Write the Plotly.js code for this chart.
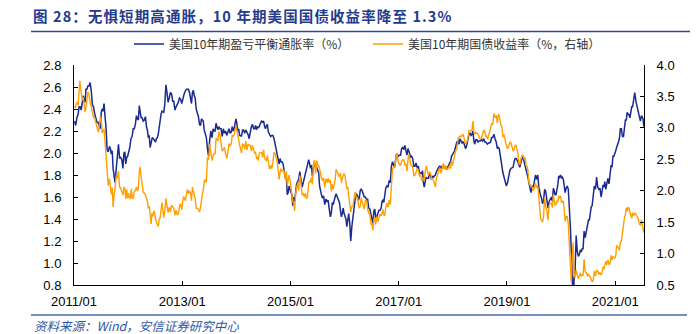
<!DOCTYPE html>
<html>
<head>
<meta charset="utf-8">
<script src="https://cdn.plot.ly/plotly-3.0.1.min.js"></script>
<style>
html,body{margin:0;padding:0;background:#fff;}
#chart{width:696px;height:334px;}
.gtitle{letter-spacing:1.1px;}
</style>
</head>
<body>
<div id="chart"></div>
<script>
// ---- Data (weekly-ish values grouped by month) ----
const seriesNames = ['美国10年期盈亏平衡通胀率（%）', '美国10年期国债收益率（%，右轴）'];
const startYear = 2011;
const lastMonthEndDay = 14; // series ends mid-July 2021

// 10Y breakeven inflation (%), left axis
const be2011 = [[2.29,2.25,2.32,2.35],[2.42,2.42,2.39,2.45],[2.52,2.49,2.46,2.58,2.58],[2.61,2.61,2.64,2.57],[2.44,2.42,2.36,2.30],[2.28,2.28,2.24,2.22],[2.37,2.40,2.38,2.45,2.34],[2.24,2.03,2.01,2.06],[2.04,1.99,2.02,1.86,1.80],[1.73,1.85,1.94,2.08],[1.95,1.96,1.94,1.86],[2.00,2.01,1.90,1.96,1.97]];
const be2012 = [[2.00,2.05,2.13,2.15],[2.22,2.22,2.26,2.34],[2.31,2.30,2.43,2.37,2.32],[2.32,2.29,2.30,2.33],[2.24,2.21,2.14,2.16,2.05],[2.11,2.14,2.13,2.11],[2.10,2.13,2.14,2.17,2.25],[2.32,2.35,2.38,2.37,2.37],[2.44,2.62,2.55,2.46],[2.50,2.55,2.54,2.47],[2.47,2.39,2.42,2.44],[2.46,2.50,2.49,2.45]];
const be2013 = [[2.50,2.52,2.55,2.57,2.58],[2.58,2.58,2.55,2.50],[2.45,2.55,2.57,2.52,2.50],[2.40,2.37,2.33,2.26],[2.25,2.31,2.30,2.29,2.21],[2.16,2.14,2.04,1.97],[2.12,2.20,2.14,2.22],[2.20,2.20,2.27,2.24,2.21],[2.24,2.22,2.22,2.15],[2.22,2.18,2.20,2.16],[2.19,2.22,2.18,2.19],[2.24,2.20,2.22,2.29,2.31]];
const be2014 = [[2.27,2.20,2.22,2.16,2.16],[2.15,2.21,2.21,2.18],[2.21,2.19,2.17,2.13],[2.20,2.24,2.26,2.22],[2.22,2.25,2.21,2.24,2.23],[2.24,2.27,2.29,2.28],[2.29,2.24,2.22,2.25,2.26],[2.19,2.17,2.15,2.16],[2.16,2.13,2.07,2.01],[1.96,1.94,1.90,1.95,1.92],[1.92,1.90,1.81,1.77],[1.78,1.62,1.64,1.70,1.67]];
const be2015 = [[1.63,1.62,1.52,1.60,1.56],[1.67,1.72,1.74,1.76],[1.83,1.73,1.69,1.73],[1.77,1.80,1.85,1.90],[1.94,1.90,1.86,1.89,1.79],[1.86,1.91,1.88,1.87],[1.84,1.82,1.70,1.65,1.62],[1.59,1.61,1.53,1.58],[1.56,1.57,1.49,1.42],[1.46,1.55,1.53,1.58,1.60],[1.63,1.60,1.57,1.55],[1.48,1.42,1.45,1.50,1.45]];
const be2016 = [[1.42,1.40,1.33,1.43,1.45],[1.37,1.20,1.33,1.42],[1.51,1.58,1.63,1.61],[1.57,1.60,1.66,1.67,1.66],[1.62,1.60,1.60,1.58],[1.58,1.50,1.49,1.43],[1.41,1.36,1.47,1.49,1.42],[1.41,1.45,1.48,1.48],[1.50,1.56,1.57,1.55,1.62],[1.68,1.70,1.69,1.75],[1.73,1.88,1.92,1.89],[1.87,1.93,1.99,1.98,1.97]];
const be2017 = [[1.98,1.98,2.04,2.05],[2.03,2.07,2.02,1.98],[2.04,2.02,1.99,1.96,1.97],[1.95,1.88,1.88,1.91],[1.87,1.88,1.82,1.82],[1.81,1.84,1.73,1.69,1.74],[1.78,1.77,1.77,1.82],[1.79,1.76,1.79,1.78,1.79],[1.80,1.83,1.86,1.87],[1.88,1.86,1.88,1.89],[1.86,1.88,1.85,1.88],[1.89,1.91,1.92,1.97,1.98]];
const be2018 = [[2.00,2.02,2.06,2.10],[2.11,2.08,2.13,2.11],[2.09,2.10,2.09,2.06,2.04],[2.07,2.11,2.17,2.18],[2.16,2.17,2.20,2.11,2.08],[2.12,2.12,2.10,2.11],[2.11,2.12,2.11,2.13],[2.10,2.10,2.09,2.08,2.09],[2.09,2.10,2.14,2.14],[2.17,2.13,2.10,2.04],[2.05,2.04,1.98,1.92,1.89],[1.82,1.78,1.74,1.70]];
const be2019 = [[1.73,1.79,1.84,1.86],[1.87,1.87,1.92,1.95],[1.95,1.94,1.92,1.89,1.87],[1.91,1.95,1.96,1.92],[1.90,1.85,1.82,1.78,1.73],[1.69,1.64,1.70,1.69],[1.74,1.80,1.76,1.80],[1.69,1.63,1.61,1.59,1.54],[1.56,1.67,1.65,1.58],[1.50,1.56,1.59,1.60],[1.56,1.68,1.66,1.62,1.62],[1.66,1.71,1.79,1.78,1.80]];
const be2020 = [[1.77,1.78,1.76,1.70,1.64],[1.68,1.70,1.67,1.52],[1.33,1.10,0.98,0.55,0.85],[0.93,1.25,1.10,1.06],[1.08,1.12,1.10,1.13,1.13],[1.29,1.23,1.28,1.32],[1.39,1.39,1.49,1.51,1.52],[1.62,1.70,1.67,1.78],[1.69,1.67,1.68,1.60],[1.65,1.71,1.69,1.74,1.67],[1.71,1.77,1.72,1.79],[1.89,1.87,1.97,1.97,1.99]];
const be2021 = [[2.02,2.05,2.07,2.10,2.13],[2.22,2.22,2.15,2.15],[2.24,2.30,2.30,2.37,2.35],[2.35,2.32,2.37,2.42,2.42],[2.51,2.55,2.47,2.43],[2.38,2.34,2.29,2.34],[2.32,2.31,2.24]];

// 10Y Treasury yield (%), right axis
const y2011 = [[3.34,3.32,3.39,3.40,3.36],[3.60,3.75,3.62,3.54,3.44],[3.49,3.38,3.25,3.33,3.45],[3.57,3.55,3.41,3.38,3.33],[3.22,3.17,3.16,3.07],[3.00,2.97,2.93,3.07,3.18],[3.11,2.92,2.96,2.97,2.80],[2.51,2.24,2.08,2.19],[2.01,1.94,2.05,1.74,1.93],[2.03,2.24,2.20,2.31],[2.06,2.04,1.99,1.93],[2.05,2.04,1.87,2.02,1.88]];
const y2012 = [[1.96,1.90,1.87,2.03,1.89],[1.87,1.99,2.00,2.06],[2.00,2.03,2.30,2.38,2.23],[2.06,1.98,1.96,1.94],[1.88,1.84,1.72,1.76,1.62],[1.47,1.64,1.59,1.68,1.65],[1.55,1.49,1.46,1.43,1.55],[1.57,1.66,1.81,1.69,1.57],[1.67,1.88,1.76,1.65],[1.74,1.66,1.77,1.75],[1.72,1.61,1.69,1.62],[1.63,1.70,1.79,1.77,1.70]];
const y2013 = [[1.84,1.91,1.87,1.84,1.95],[2.02,1.95,2.00,1.96],[1.84,2.06,1.99,1.93,1.87],[1.72,1.72,1.70,1.66],[1.74,1.90,1.95,2.01,2.16],[2.17,2.13,2.53,2.49],[2.74,2.59,2.48,2.56],[2.60,2.58,2.83,2.82,2.79],[2.94,2.89,2.75,2.63],[2.65,2.69,2.59,2.51],[2.62,2.75,2.71,2.75],[2.88,2.87,2.89,3.00,3.03]];
const y2014 = [[2.96,2.86,2.82,2.73,2.67],[2.60,2.74,2.73,2.66],[2.79,2.65,2.74,2.72],[2.72,2.63,2.72,2.66],[2.59,2.62,2.52,2.53,2.48],[2.60,2.60,2.61,2.53],[2.65,2.52,2.48,2.47,2.56],[2.42,2.34,2.40,2.35],[2.46,2.61,2.59,2.53],[2.45,2.31,2.18,2.29,2.35],[2.31,2.32,2.31,2.18],[2.31,2.08,2.17,2.25,2.17]];
const y2015 = [[2.04,1.95,1.83,1.80,1.68],[1.95,2.02,2.13,2.00],[2.24,2.13,1.93,1.95],[1.90,1.96,1.87,1.93],[2.12,2.15,2.14,2.21,2.10],[2.41,2.49,2.27,2.48],[2.40,2.40,2.35,2.26,2.20],[2.17,2.20,2.05,2.19],[2.13,2.20,2.13,2.17],[1.99,2.10,2.03,2.09,2.16],[2.34,2.28,2.26,2.22],[2.28,2.13,2.21,2.25,2.27]];
const y2016 = [[2.24,2.13,2.04,2.05,1.94],[1.86,1.66,1.75,1.76],[1.88,1.98,1.88,1.90],[1.77,1.72,1.75,1.89,1.83],[1.78,1.71,1.85,1.85],[1.71,1.64,1.62,1.47],[1.46,1.37,1.55,1.57,1.46],[1.59,1.51,1.58,1.63],[1.60,1.67,1.70,1.62,1.60],[1.73,1.80,1.74,1.85],[1.78,2.15,2.36,2.36],[2.39,2.47,2.60,2.55,2.45]];
const y2017 = [[2.42,2.40,2.47,2.49],[2.49,2.41,2.42,2.31],[2.49,2.58,2.50,2.41,2.40],[2.38,2.24,2.25,2.29],[2.35,2.33,2.24,2.25],[2.16,2.21,2.16,2.15,2.31],[2.39,2.33,2.24,2.30],[2.27,2.19,2.19,2.17,2.12],[2.06,2.20,2.26,2.33],[2.37,2.28,2.38,2.43],[2.34,2.40,2.35,2.34],[2.38,2.38,2.35,2.48,2.40]];
const y2018 = [[2.48,2.55,2.64,2.66],[2.84,2.85,2.87,2.86],[2.87,2.90,2.85,2.82,2.74],[2.77,2.83,2.96,2.96],[2.95,2.97,3.11,2.93,2.90],[2.93,2.92,2.90,2.85],[2.82,2.83,2.89,2.96],[2.95,2.87,2.87,2.82,2.86],[2.94,2.99,3.07,3.05],[3.23,3.16,3.20,3.08],[3.22,3.19,3.08,3.04,3.01],[2.85,2.89,2.79,2.72]];
const y2019 = [[2.67,2.70,2.78,2.76],[2.70,2.63,2.66,2.72],[2.72,2.64,2.59,2.44,2.41],[2.50,2.56,2.56,2.50],[2.53,2.40,2.39,2.32,2.14],[2.09,2.09,2.06,2.00],[2.04,2.12,2.05,2.08],[1.86,1.75,1.55,1.54,1.50],[1.57,1.90,1.74,1.69],[1.53,1.76,1.80,1.80],[1.73,1.94,1.84,1.77,1.78],[1.84,1.82,1.92,1.88,1.92]];
const y2020 = [[1.81,1.83,1.84,1.70,1.51],[1.59,1.59,1.47,1.13],[0.71,0.54,0.94,1.18,0.68],[0.62,0.73,0.65,0.60],[0.64,0.69,0.64,0.66,0.65],[0.91,0.71,0.70,0.64],[0.68,0.64,0.63,0.59,0.55],[0.57,0.72,0.64,0.74],[0.72,0.67,0.70,0.66],[0.70,0.79,0.75,0.84,0.88],[0.82,0.90,0.83,0.84],[0.97,0.90,0.95,0.94,0.93]];
const y2021 = [[0.96,1.13,1.11,1.09,1.05],[1.19,1.20,1.34,1.44],[1.57,1.62,1.73,1.67,1.74],[1.72,1.67,1.58,1.56,1.65],[1.60,1.64,1.63,1.59],[1.56,1.47,1.45,1.54],[1.44,1.36,1.33]];

const beYears = [be2011,be2012,be2013,be2014,be2015,be2016,be2017,be2018,be2019,be2020,be2021];
const yYears  = [y2011,y2012,y2013,y2014,y2015,y2016,y2017,y2018,y2019,y2020,y2021];

function build(years){
  const xs = [], vs = [];
  years.forEach((months, k) => {
    const Y = startYear + k;
    months.forEach((vals, m) => {
      const isLast = (k === years.length - 1) && (m === months.length - 1);
      const span = isLast ? lastMonthEndDay : new Date(Date.UTC(Y, m + 1, 0)).getUTCDate();
      const n = vals.length;
      vals.forEach((v, i) => {
        const t = Date.UTC(Y, m, 1) + (i + 0.5) * span / n * 86400000;
        xs.push(new Date(t).toISOString().slice(0, 16).replace('T', ' '));
        vs.push(v);
      });
    });
  });
  return {x: xs, y: vs};
}

const be = build(beYears);
const ty = build(yYears);

const tickFont = {family: 'Liberation Sans, Arial, sans-serif', size: 13, color: '#000'};
const cjk = '"Noto Sans CJK SC", "Noto Sans", sans-serif';

const traces = [
  {x: be.x, y: be.y, type: 'scatter', mode: 'lines', name: seriesNames[0],
   line: {color: '#1a2a8f', width: 1.5}, yaxis: 'y', legend: 'legend'},
  {x: ty.x, y: ty.y, type: 'scatter', mode: 'lines', name: seriesNames[1],
   line: {color: '#ffa000', width: 1.4}, yaxis: 'y2', legend: 'legend2'}
];

const layout = {
  width: 696, height: 334,
  margin: {l: 74, r: 52, t: 65, b: 49, pad: 0},
  paper_bgcolor: '#fff', plot_bgcolor: '#fff',
  showlegend: true,
  title: {
    text: '图 28：无惧短期高通胀，10 年期美国国债收益率降至 1.3%',
    font: {family: cjk, size: 14.5, weight: 'bold', color: '#1f3b8c'},
    x: 33/696, xref: 'container', xanchor: 'left',
    y: 1 - 17/334, yref: 'container', yanchor: 'middle'
  },
  xaxis: {
    type: 'date', range: ['2011-01-01', '2021-07-14'],
    tick0: '2011-01-01', dtick: 'M24', tickformat: '%Y/%m',
    ticks: 'inside', ticklen: 4, tickcolor: '#000', tickwidth: 1,
    showline: true, linecolor: '#000', linewidth: 1,
    showgrid: false, zeroline: false, tickfont: tickFont,
    ticklabelstandoff: 4
  },
  yaxis: {
    range: [0.8, 2.8], dtick: 0.2, tick0: 0.8, tickformat: '.1f',
    ticks: 'inside', ticklen: 4, tickcolor: '#000',
    showline: true, linecolor: '#000', linewidth: 1,
    showgrid: false, zeroline: false, tickfont: tickFont,
    ticklabelstandoff: 9
  },
  yaxis2: {
    range: [0.5, 4.0], dtick: 0.5, tick0: 0.5, tickformat: '.1f',
    overlaying: 'y', side: 'right',
    ticks: 'inside', ticklen: 4, tickcolor: '#000',
    showline: true, linecolor: '#000', linewidth: 1,
    showgrid: false, zeroline: false, tickfont: tickFont,
    ticklabelstandoff: 9
  },
  legend: {
    orientation: 'h', x: (129-74)/570, xanchor: 'left', y: (285-44)/220, yanchor: 'middle',
    font: {family: cjk, size: 12, color: '#333'}, bgcolor: 'rgba(0,0,0,0)', borderwidth: 0
  },
  legend2: {
    orientation: 'h', x: (368-74)/570, xanchor: 'left', y: (285-44)/220, yanchor: 'middle',
    font: {family: cjk, size: 12, color: '#333'}, bgcolor: 'rgba(0,0,0,0)', borderwidth: 0
  },
  shapes: [
    {type: 'line', xref: 'paper', yref: 'paper', x0: (31-74)/570, x1: (690-74)/570,
     y0: (285-31.5)/220, y1: (285-31.5)/220, line: {color: '#2c4a9a', width: 1.5}},
    {type: 'line', xref: 'paper', yref: 'paper', x0: (31-74)/570, x1: (687-74)/570,
     y0: (285-315)/220, y1: (285-315)/220, line: {color: '#4a6bb0', width: 1.5}}
  ],
  annotations: [
    {text: '资料来源：Wind，安信证券研究中心', xref: 'paper', yref: 'paper',
     x: (32-74)/570, y: (285-325)/220, xanchor: 'left', yanchor: 'middle', showarrow: false,
     font: {family: cjk, size: 12.5, style: 'italic', color: '#2f56a6'}}
  ]
};

Plotly.newPlot('chart', traces, layout, {displayModeBar: false, staticPlot: true});
</script>
</body>
</html>
